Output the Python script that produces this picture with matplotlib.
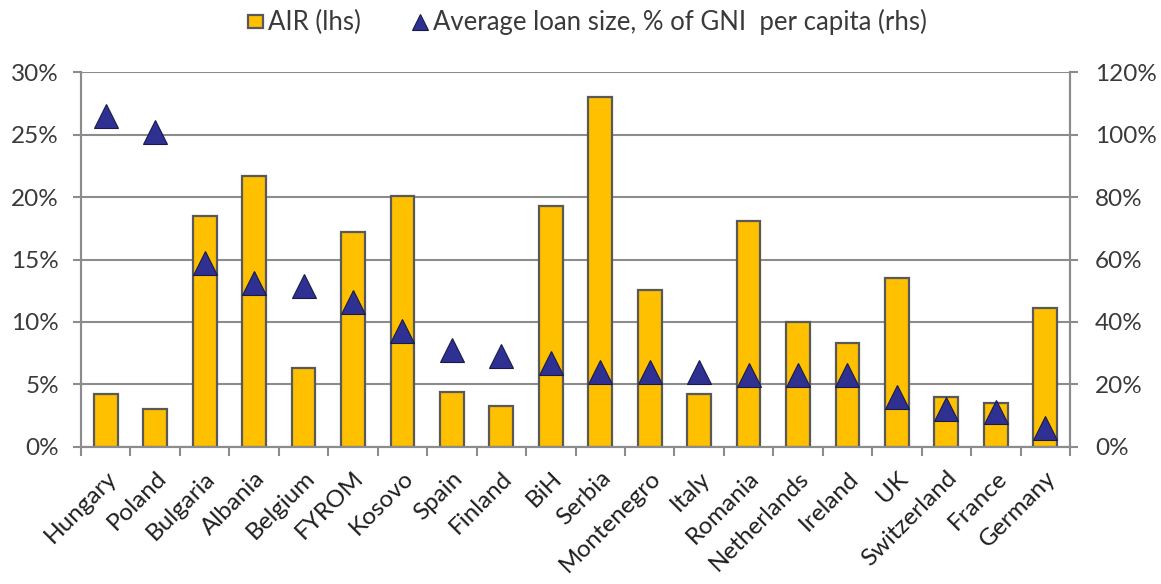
import numpy as np
import matplotlib.pyplot as plt
from matplotlib.ticker import PercentFormatter

countries = ['Hungary', 'Poland', 'Bulgaria', 'Albania', 'Belgium', 'FYROM',
             'Kosovo', 'Spain', 'Finland', 'BiH', 'Serbia', 'Montenegro',
             'Italy', 'Romania', 'Netherlands', 'Ireland', 'UK',
             'Switzerland', 'France', 'Germany']
# AIR, % (lhs)
air = [4.2, 3.0, 18.5, 21.7, 6.3, 17.2, 20.1, 4.4, 3.3, 19.3,
       28.0, 12.6, 4.2, 18.1, 10.0, 8.3, 13.5, 4.0, 3.5, 11.1]
# average loan size, % of GNI per capita (rhs)
loan = [106, 101, 59, 52.5, 51.5, 46.5, 37, 31, 29, 27,
        24, 24, 24, 23, 23, 23, 16, 12, 11, 6]

plt.rcParams['font.family'] = ['Lato', 'DejaVu Sans']
txt = '#3a3a3a'
grid = '#8c8c8c'

fig = plt.figure(figsize=(11.61, 5.84), dpi=100)
ax = fig.add_axes([0.0698, 0.2351, 0.8518, 0.6408])
ax2 = ax.twinx()

x = np.arange(len(countries))
ax.bar(x, air, width=0.48, color='#FFC000', edgecolor='#595959',
       linewidth=1.6, label='AIR (lhs)', zorder=3)
ax2.plot(x, loan, ls='none', marker='^', markersize=17.5, color='#2E3192',
         markeredgecolor='#1a1a4a', markeredgewidth=0.8,
         label='Average loan size, % of GNI  per capita (rhs)', zorder=4)

ax.set_xlim(-0.5, len(countries) - 0.5)
ax.set_ylim(0, 30)
ax2.set_ylim(0, 120)
ax.set_yticks(np.arange(0, 31, 5))
ax2.set_yticks(np.arange(0, 121, 20))
ax.yaxis.set_major_formatter(PercentFormatter(decimals=0))
ax2.yaxis.set_major_formatter(PercentFormatter(decimals=0))
ax.grid(axis='y', color=grid, lw=1.5, zorder=0)
ax.set_axisbelow(True)

ax.set_xticks(x)
ax.set_xticklabels(countries, rotation=45, ha='right', rotation_mode='anchor',
                   fontsize=17.5, color='#1e1e1e')
ax.set_xticks(np.arange(-0.5, len(countries), 1), minor=True)
ax.tick_params(axis='x', which='major', length=0, pad=15)
ax.tick_params(axis='x', which='minor', length=6.7, width=1.5, color=grid)
ax.tick_params(axis='y', length=6, width=1.5, color=grid, labelsize=17.5,
               labelcolor=txt, pad=10)
ax2.tick_params(axis='y', length=6, width=1.5, color=grid, labelsize=17.5,
                labelcolor=txt, pad=12)

for a in (ax, ax2):
    a.spines['top'].set_visible(False)
    for s in ('left', 'right', 'bottom'):
        a.spines[s].set_color(grid)
        a.spines[s].set_linewidth(1.5)

h1, l1 = ax.get_legend_handles_labels()
h2, l2 = ax2.get_legend_handles_labels()
fig.legend(h1 + h2, l1 + l2, loc='center', bbox_to_anchor=(0.506, 0.962),
           ncol=2, frameon=False, fontsize=18.5, labelcolor=txt,
           handlelength=0.6, handleheight=0.4, handletextpad=0.2,
           columnspacing=2.0, markerscale=0.62)

plt.savefig('out.png', dpi=100)
